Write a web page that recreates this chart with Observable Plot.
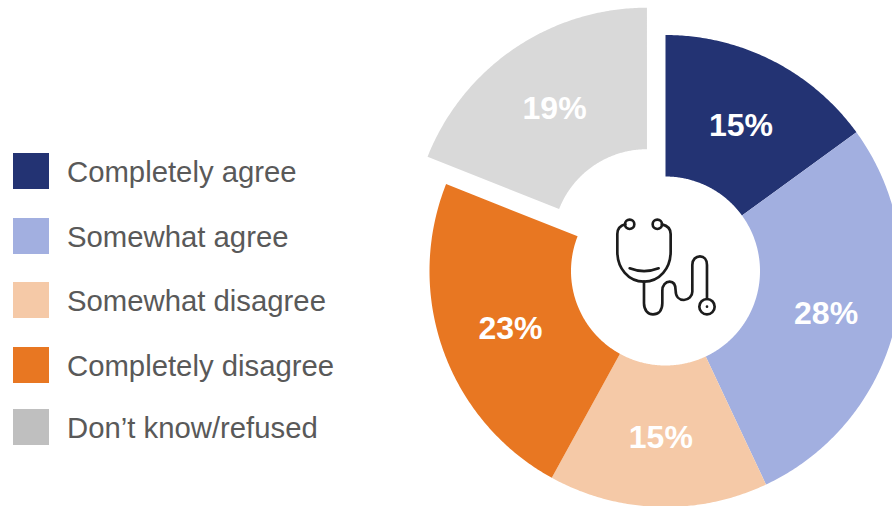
<!DOCTYPE html>
<html>
<head>
<meta charset="utf-8">
<script src="https://cdn.jsdelivr.net/npm/d3@7"></script>
<script src="https://cdn.jsdelivr.net/npm/@observablehq/plot@0.6"></script>
<style>
  html, body { margin: 0; padding: 0; background: #fff; overflow: hidden; }
  svg { display: block; }
</style>
</head>
<body>
<div id="chart"></div>
<script>
const categories = ["Completely agree", "Somewhat agree", "Somewhat disagree", "Completely disagree", "Don\u2019t know/refused"];
const shares = [15, 28, 15, 23, 19];
const sliceColors = ["#233373", "#A2AFE0", "#F5C9A7", "#E87722", "#D9D9D9"];
const legendColors = ["#233373", "#A2AFE0", "#F5C9A7", "#E87722", "#BFBFBF"];

// Layout, in the pixel space shared by the x and y scales
const W = 892, H = 506;
const cx = 665, cy = 270.5, rOuter = 236, rInner = 94.5;
const explode = { "Don\u2019t know/refused": 33 };
const legendY = [171, 236, 300, 365, 427];
const swatch = { x1: 13, x2: 49, half: 18 };
const legendTextX = 66.5;

const total = d3.sum(shares);
let running = 0;
const slices = categories.map((name, i) => {
  const a0 = running / total * 2 * Math.PI;
  running += shares[i];
  const a1 = running / total * 2 * Math.PI;
  const mid = (a0 + a1) / 2;
  const off = explode[name] || 0;
  return { name, share: shares[i], a0, a1, mid,
           ox: off * Math.sin(mid), oy: -off * Math.cos(mid) };
});

// Outline of each ring sector as a closed run of points
const outline = slices.flatMap(s => {
  const n = Math.ceil((s.a1 - s.a0) / (Math.PI / 360));
  const at = (r, a) => ({ name: s.name,
    px: cx + s.ox + r * Math.sin(a), py: cy + s.oy - r * Math.cos(a) });
  const pts = [];
  for (let k = 0; k <= n; k++) pts.push(at(rOuter, s.a0 + (s.a1 - s.a0) * k / n));
  for (let k = n; k >= 0; k--) pts.push(at(rInner, s.a0 + (s.a1 - s.a0) * k / n));
  return pts;
});

const labels = slices.map(s => {
  const r = (rOuter + rInner) / 2;
  return { text: s.share + "%",
    px: cx + 0.5 + s.ox + r * Math.sin(s.mid), py: cy + 1.5 + s.oy - r * Math.cos(s.mid) };
});

const legend = categories.map((name, i) => ({ name, color: legendColors[i], py: legendY[i] }));

// Stethoscope glyph at the centre of the ring
function stethoscope() {
  const ns = "http://www.w3.org/2000/svg";
  const g = document.createElementNS(ns, "g");
  g.setAttribute("transform", "translate(560,160) scale(0.3333)");
  g.setAttribute("fill", "none");
  g.setAttribute("stroke", "#1c1c1c");
  g.setAttribute("stroke-width", "8");
  g.setAttribute("stroke-linecap", "round");
  const paths = [
    "M196,193 C180,197 172,207 172,222 L172,275 C172,325 205,365 252,365 C299,365 332,325 332,275 L332,222 C332,207 324,197 306,193",
    "M209,325 Q252,342 296,325",
    "M252,365 L252,430 C252,452 265,463 279,463 C295,463 307,452 307,430 L307,392 C307,375 317,365 329,365 C341,365 347,375 347,392 C347,410 358,420 372,420 C386,420 397,408 397,395 L397,315 C397,298 408,289 420,289 C432,289 441,298 441,315 L441,417"
  ];
  for (const d of paths) {
    const p = document.createElementNS(ns, "path");
    p.setAttribute("d", d);
    g.appendChild(p);
  }
  for (const [x, y, r] of [[209, 193, 14], [292, 193, 14], [441, 440, 23]]) {
    const c = document.createElementNS(ns, "circle");
    c.setAttribute("cx", x); c.setAttribute("cy", y); c.setAttribute("r", r);
    g.appendChild(c);
  }
  const dot = document.createElementNS(ns, "circle");
  dot.setAttribute("cx", 441); dot.setAttribute("cy", 440); dot.setAttribute("r", 4);
  dot.setAttribute("fill", "#1c1c1c"); dot.setAttribute("stroke", "none");
  g.appendChild(dot);
  return g;
}

const fontFamily = "'Liberation Sans', Arial, sans-serif";

const plot = Plot.plot({
  width: W,
  height: H,
  margin: 0,
  style: { background: "#fff", fontFamily },
  x: { domain: [0, W], range: [0, W], axis: null },
  y: { domain: [0, H], range: [0, H], axis: null },
  color: { domain: categories, range: sliceColors },
  marks: [
    Plot.line(outline, { x: "px", y: "py", fill: "name", z: "name", stroke: "none", curve: "linear-closed" }),
    Plot.text(labels, { x: "px", y: "py", text: "text", fill: "#fff", fontSize: 32, fontWeight: "bold", textAnchor: "middle" }),
    Plot.rect(legend, {
      x1: () => swatch.x1, x2: () => swatch.x2,
      y1: d => d.py - swatch.half, y2: d => d.py + swatch.half,
      fill: "name",
      render(index, scales, values, dims, ctx, next) {
        const g = next(index, scales, values, dims, ctx);
        d3.select(g).selectAll("rect").attr("fill", (_, i) => legend[index[i]].color);
        return g;
      }
    }),
    Plot.text(legend, { x: () => legendTextX, y: d => d.py + 1.5, text: "name", fill: "#595959", fontSize: 29.3, textAnchor: "start" }),
    stethoscope
  ]
});
document.getElementById("chart").appendChild(plot);
</script>
</body>
</html>
